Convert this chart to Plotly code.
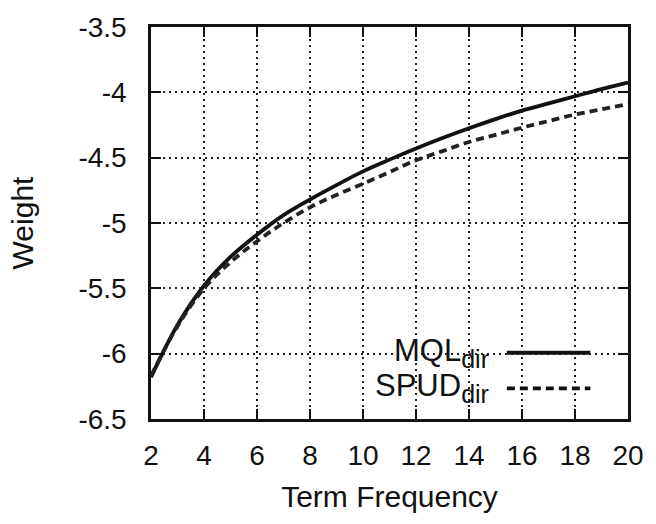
import plotly.graph_objects as go

term_freq = [2, 3, 4, 5, 6, 7, 8, 9, 10, 11, 12, 13, 14, 15, 16, 17, 18, 19, 20]
mql_dir = [-6.18, -5.78, -5.48, -5.26, -5.09, -4.94, -4.82, -4.71, -4.605, -4.515,
           -4.43, -4.35, -4.275, -4.205, -4.14, -4.085, -4.03, -3.975, -3.925]
spud_dir = [-6.17, -5.79, -5.50, -5.30, -5.14, -5.00, -4.88, -4.785, -4.70, -4.61,
            -4.52, -4.45, -4.38, -4.325, -4.27, -4.22, -4.17, -4.13, -4.09]
x_ticks = [2, 4, 6, 8, 10, 12, 14, 16, 18, 20]
y_ticks = [-6.5, -6, -5.5, -5, -4.5, -4, -3.5]
y_tick_text = ["-6.5", "-6", "-5.5", "-5", "-4.5", "-4", "-3.5"]
series_names = ["MQL<sub><span style='font-size:25px'>dir</span></sub>",
                "SPUD<sub><span style='font-size:25px'>dir</span></sub>"]

FONT = "Liberation Sans, Arial, Helvetica, sans-serif"

fig = go.Figure()
fig.add_trace(go.Scatter(x=term_freq, y=mql_dir, mode="lines", line_shape="spline",
                         line=dict(color="#111", width=3.8), showlegend=False))
fig.add_trace(go.Scatter(x=term_freq, y=spud_dir, mode="lines", line_shape="spline",
                         line=dict(color="#222", width=3.8, dash="8px,5px"), showlegend=False))

# legend (text right-aligned, sample lines on the right)
legend_rows = [(0.169, "solid"), (0.078, "8px,5px")]
for (yp, dash), name in zip(legend_rows, series_names):
    fig.add_annotation(xref="paper", yref="paper", x=0.712, y=yp, text=name,
                       showarrow=False, xanchor="right", yanchor="middle",
                       font=dict(family=FONT, size=31, color="#111"))
    fig.add_shape(type="line", xref="paper", yref="paper", x0=0.746, x1=0.921, y0=yp, y1=yp,
                  line=dict(color="#111", width=3.8, dash=dash))

axis_common = dict(showline=True, linecolor="#111", linewidth=2.5, mirror="ticks",
                   ticks="inside", ticklen=10, tickwidth=2, tickcolor="#111",
                   showgrid=True, gridcolor="#222", gridwidth=1.5, griddash="2px,4px",
                   zeroline=False, tickfont=dict(family=FONT, size=28, color="#111"))

fig.update_xaxes(range=[2, 20], tickvals=x_ticks, ticklabelstandoff=10,
                 title=dict(text="Term Frequency", font=dict(family=FONT, size=30, color="#111"),
                            standoff=16),
                 **axis_common)
fig.update_yaxes(range=[-6.5, -3.5], tickvals=y_ticks, ticktext=y_tick_text, ticklabelstandoff=16,
                 title=dict(text="Weight", font=dict(family=FONT, size=30, color="#111"),
                            standoff=36),
                 **axis_common)

fig.update_layout(width=656, height=524, margin=dict(l=151, r=21, t=22, b=105),
                  plot_bgcolor="white", paper_bgcolor="white")

fig.write_html("out.html")
